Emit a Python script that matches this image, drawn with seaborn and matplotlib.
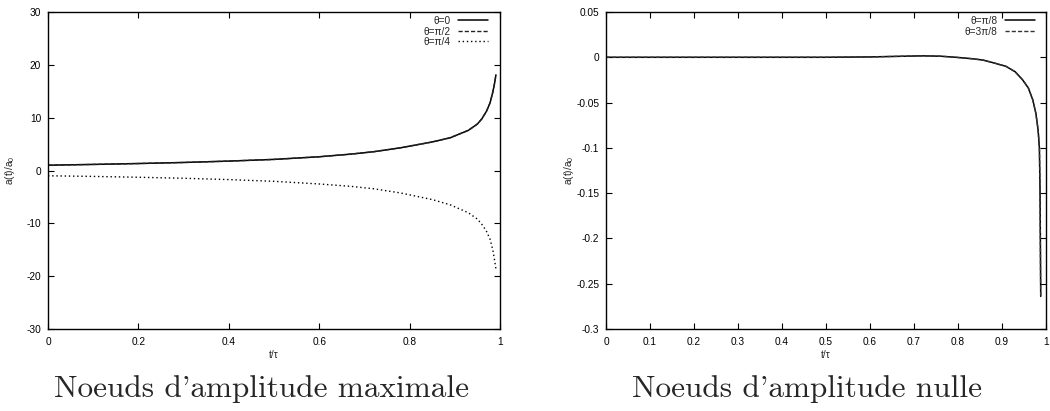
import matplotlib
matplotlib.use("Agg")
import matplotlib.pyplot as plt
import seaborn as sns
import pandas as pd
from matplotlib.ticker import FormatStrFormatter, MultipleLocator

# Noeuds d'amplitude maximale
t_max = [0.0, 0.1, 0.2, 0.3, 0.4, 0.5, 0.6, 0.67, 0.72, 0.78, 0.85, 0.89, 0.93,
         0.95, 0.96, 0.97, 0.978, 0.984, 0.988, 0.991]
a_theta0 = [1.0, 1.15, 1.32, 1.52, 1.78, 2.1, 2.6, 3.1, 3.55, 4.3, 5.4, 6.2, 7.6,
            8.8, 9.8, 11.2, 12.8, 14.8, 16.5, 18.1]
a_theta_pi2 = a_theta0
a_theta_pi4 = [-1.0, -1.12, -1.28, -1.47, -1.72, -2.05, -2.55, -3.0, -3.45, -4.25,
               -5.5, -6.5, -8.0, -9.2, -10.2, -11.5, -13.0, -15.0, -17.0, -18.6]

# Noeuds d'amplitude nulle
t_nul = [0.0, 0.1, 0.2, 0.3, 0.4, 0.5, 0.6, 0.68, 0.72, 0.76, 0.795, 0.83, 0.856,
         0.88, 0.909, 0.93, 0.947, 0.96, 0.97, 0.977, 0.982, 0.985, 0.9865, 0.988]
a_pi8 = [0.0, 0.0, 0.0, 0.0, 0.0, 0.0, 0.0004, 0.0012, 0.0016, 0.0012, 0.0, -0.0015,
         -0.003, -0.006, -0.010, -0.016, -0.025, -0.034, -0.047, -0.062, -0.08, -0.10,
         -0.15, -0.264]
a_3pi8 = a_pi8

sns.set_style("ticks")
plt.rcParams["font.family"] = ["Liberation Sans", "DejaVu Sans"]
plt.rcParams["axes.unicode_minus"] = False
plt.rcParams["mathtext.default"] = "regular"

fs = 7.3
fig = plt.figure(figsize=(10.5, 4.11), dpi=100)
ax1 = fig.add_axes([48 / 1050, 1 - 329 / 411, 452 / 1050, 317 / 411])
ax2 = fig.add_axes([606 / 1050, 1 - 329 / 411, 440 / 1050, 317 / 411])

df1 = pd.DataFrame({"t": t_max, "a0": a_theta0, "a2": a_theta_pi2, "a4": a_theta_pi4})
sns.lineplot(data=df1, x="t", y="a0", ax=ax1, color="black", lw=1.1, label="θ=0")
sns.lineplot(data=df1, x="t", y="a2", ax=ax1, color="#222222", lw=1.0,
             linestyle=(0, (3, 1.5)), label="θ=π/2")
sns.lineplot(data=df1, x="t", y="a4", ax=ax1, color="black", lw=1.0,
             linestyle=(0, (1, 2)), label="θ=π/4")

df2 = pd.DataFrame({"t": t_nul, "p8": a_pi8, "p38": a_3pi8})
sns.lineplot(data=df2, x="t", y="p8", ax=ax2, color="black", lw=1.1, label="θ=π/8")
sns.lineplot(data=df2, x="t", y="p38", ax=ax2, color="#333333", lw=1.0,
             linestyle=(0, (3, 1.5)), label="θ=3π/8")

ax1.set_xlim(0, 1)
ax1.set_ylim(-30, 30)
ax1.xaxis.set_major_locator(MultipleLocator(0.2))
ax1.yaxis.set_major_locator(MultipleLocator(10))
ax2.set_xlim(0, 1)
ax2.set_ylim(-0.3, 0.05)
ax2.xaxis.set_major_locator(MultipleLocator(0.1))
ax2.yaxis.set_major_locator(MultipleLocator(0.05))

for ax in (ax1, ax2):
    ax.xaxis.set_major_formatter(FormatStrFormatter("%g"))
    ax.yaxis.set_major_formatter(FormatStrFormatter("%g"))
    ax.tick_params(direction="in", length=4, width=0.8, labelsize=fs, pad=5,
                   top=True, right=True, colors="black")
    ax.tick_params(axis="x", pad=6)
    for s in ax.spines.values():
        s.set_visible(True)
        s.set_linewidth(1.0)
        s.set_color("black")
    ax.set_xlabel("t/τ", fontsize=fs)
    ax.set_ylabel("a(t)/a$_0$", fontsize=fs)
    ax.xaxis.set_label_coords(0.5, -0.066)

ax1.yaxis.set_label_coords(-0.068, 0.5)
ax2.yaxis.set_label_coords(-0.068, 0.5)

ax1.legend(loc="upper right", bbox_to_anchor=(1 - 12 / 452, 1 - 4 / 317),
           frameon=False, markerfirst=False, fontsize=fs, handlelength=3.0,
           handletextpad=0.7, labelspacing=0.05, borderaxespad=0, borderpad=0)
ax2.legend(loc="upper right", bbox_to_anchor=(1 - 11 / 440, 1 - 4 / 317),
           frameon=False, markerfirst=False, fontsize=fs, handlelength=3.0,
           handletextpad=0.7, labelspacing=0.05, borderaxespad=0, borderpad=0)

title_font = ["cmr10", "DejaVu Serif"]
fig.text(261 / 1050, 1 - 397 / 411, "Noeuds d'amplitude maximale", family=title_font,
         fontsize=22.5, ha="center", va="baseline")
fig.text(807 / 1050, 1 - 397 / 411, "Noeuds d'amplitude nulle", family=title_font,
         fontsize=22.5, ha="center", va="baseline")

fig.savefig("out.png", dpi=100)
